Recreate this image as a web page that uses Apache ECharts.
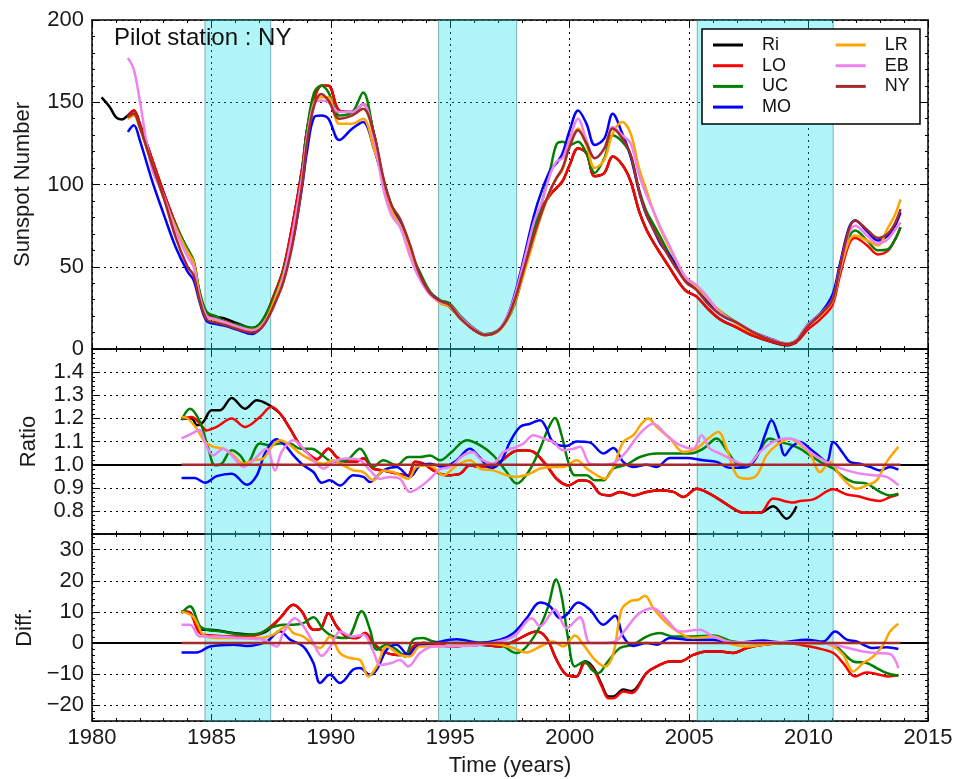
<!DOCTYPE html>
<html>
<head>
<meta charset="utf-8">
<script src="https://cdn.jsdelivr.net/npm/echarts@6/dist/echarts.min.js"></script>
<style>
  html, body { margin: 0; padding: 0; background: #ffffff; }
  #chart { width: 967px; height: 779px; }
</style>
</head>
<body>
<div id="chart"></div>
<script>
// ---------------- data ----------------
const stations = ['Ri', 'LO', 'UC', 'MO', 'LR', 'EB', 'NY'];
const stationColors = ['#000000', '#ff0000', '#008000', '#0000ff', '#ffa500', '#ee82ee', '#a52a2a'];

// shaded intervals (years)
const minimaSpans = [[1984.73, 1987.48], [1994.51, 1997.78], [2005.34, 2011.03]];

// smoothed sunspot numbers, sampled at these epochs
const years = [
  1980.4, 1980.75, 1981.0, 1981.25, 1981.5, 1981.75, 1982.0, 1982.5, 1983.0, 1983.5,
  1984.0, 1984.25, 1984.5, 1984.8, 1985.2, 1985.6, 1986.1, 1986.7, 1987.0, 1987.3,
  1987.6, 1988.0, 1988.4, 1988.8, 1989.0, 1989.3, 1989.6, 1989.9, 1990.35, 1990.9,
  1991.35, 1991.8, 1992.2, 1992.55, 1992.9, 1993.3, 1993.7, 1994.15, 1994.6, 1994.95,
  1995.4, 1995.95, 1996.45, 1996.95, 1997.35, 1997.7, 1998.05, 1998.5, 1998.85, 1999.2,
  1999.45, 1999.7, 2000.0, 2000.35, 2000.7, 2001.05, 2001.45, 2001.8, 2002.2, 2002.55,
  2002.9, 2003.2, 2003.5, 2003.8, 2004.2, 2004.6, 2004.9, 2005.3, 2005.75, 2006.3,
  2007.0, 2007.7, 2008.5, 2009.1, 2009.5, 2009.95, 2010.5, 2011.0, 2011.3, 2011.7,
  2011.95, 2012.45, 2012.9, 2013.3, 2013.6, 2013.85
];

const riSSN = [
  153, 147, 141, 139.5, 142, 145, 137, 116, 95, 76,
  60, 53, 34.5, 22, 19.7, 18.3, 15.5, 12.8, 14.8, 21.5,
  32, 48, 76, 110, 133, 152, 160, 160, 145, 144,
  149, 131, 101, 84, 75, 61, 46, 34, 28, 26,
  19, 12, 8.5, 10.6, 17.9, 31.7, 49.8, 72.5, 86, 94,
  98, 102, 112, 122, 119, 105, 107, 117, 112, 102,
  84, 73, 65, 58, 49, 40, 35, 32, 25, 18,
  13, 8, 4.1, 2.3, 4.1, null, null, null, null, null,
  null, null, null, null, null, null
];
const loSSN = [
  null, null, null, null, 141, 145, 137, 116, 95, 76,
  60, 53, 33.5, 20.5, 18.3, 16.7, 14, 12.2, 13.8, 21,
  32, 48, 76, 110, 133, 152, 160, 160, 145, 144,
  149, 131, 101, 84, 75, 61, 46, 34, 28, 26,
  19, 12, 8.5, 10.6, 17.9, 31.7, 49.8, 72.5, 86, 94,
  98, 102, 112, 122, 119, 105, 107, 117, 112, 102,
  84, 73, 65, 58, 49, 40, 35, 32, 25, 18,
  13, 8, 4.3, 2.5, 4.2, 11.5, 18.2, 26.8, 44, 64,
  67.5, 63, 57.5, 59.5, 66, 74
];
const ucSSN = [
  null, null, null, null, 140, 143, 135, 113, 92, 75,
  61, 54, 35.5, 22.5, 19.8, 16.2, 14.8, 12.7, 14.7, 21.5,
  30.5, 46, 70, 106, 133, 156, 160, 156, 142, 144,
  156, 130, 103, 85, 76, 60, 47.5, 35, 29.5, 28,
  20.5, 13, 8.9, 10.9, 17, 27.5, 45.5, 72, 90, 110,
  124.5, 126, 124, 126, 119, 107, 116, 130, 126, 118,
  97, 84, 76, 68, 57, 48, 42, 38, 30, 23,
  16, 10.2, 5.5, 3.3, 5.4, 14.1, 21.3, 29.5, 47, 68,
  72, 66, 60, 60.5, 66, 74
];
const moSSN = [
  null, null, null, null, 132, 136, 127, 103, 82, 62,
  47, 42, 29, 17, 15.2, 13.9, 11.6, 9.1, 11.6, 17.5,
  28.5, 44, 65, 99, 120, 141, 142, 140, 127, 134,
  138, 122, 102, 87, 78, 60, 45, 34, 28.7, 27,
  19.5, 12.8, 8.6, 10.5, 18.5, 33.3, 53.5, 81, 97, 109,
  113, 119, 133, 145, 137, 124, 128, 143, 131, 117,
  96, 82, 73, 64, 56.5, 47.5, 41, 36.7, 28.6, 21.2,
  15.8, 10.1, 5.8, 3.2, 5.5, 14.6, 21.7, 33, 51, 74,
  78.3, 71.5, 66, 68.7, 74.5, 83
];
const lrSSN = [
  null, null, null, null, 140, 142, 134, 113, 92, 74,
  59, 53, 33, 20, 17.6, 16, 13.5, 11.6, 13.1, 18.5,
  28.5, 44.5, 67, 102, 127, 150, 153, 153, 137, 137,
  140, 122, 103, 84, 75, 60, 45, 34, 27.6, 26,
  19, 12.2, 8.3, 10.2, 16.8, 28.5, 44.3, 66.5, 83, 96.5,
  104, 109, 124, 134, 124, 110, 115, 131, 138, 131,
  110, 97, 84, 73, 61, 49.5, 42.5, 38, 31, 23,
  15, 9.6, 5.3, 3.3, 5.5, 14.2, 20.5, 29, 47, 66,
  69, 66, 63, 73, 81, 91
];
const ebSSN = [
  null, null, null, null, 177, 170, 151, 110, 93, 72,
  56, 50, 32, 20, 18, 16, 13.5, 11.2, 12.6, 18,
  25, 43, 71, 105, 128, 149, 151, 150, 144, 144,
  149, 128, 97, 81, 74, 57, 43, 33, 28.5, 27,
  19.8, 12.7, 8.7, 10.6, 18.6, 32.2, 51.3, 77, 90, 107,
  114, 116, 128, 140, 127, 116, 122, 135, 130, 125,
  106, 94, 84, 74, 62, 50, 43, 39, 32, 22,
  16.2, 10.3, 5.5, 3.3, 5.5, 14.3, 21.3, 30, 48, 71,
  75, 69, 64, 66.5, 72, 77
];
const nySSN = [
  null, null, null, null, 141, 143, 135, 113, 92, 68,
  50, 45, 30, 18, 16, 14.5, 12, 10, 11.5, 17,
  26, 40, 64, 100, 125, 148, 155, 151, 140, 142,
  146, 131, 104, 87, 79, 64, 46, 34, 29, 27,
  19, 12, 8.5, 10.5, 17.5, 30, 47, 69, 84, 97,
  104, 110, 123, 133, 125, 116, 122, 134, 128, 118,
  96, 82, 73, 65, 55, 46, 40, 36, 28, 21,
  16, 10, 5, 3, 5, 13.5, 21, 30, 49, 73,
  78, 72.5, 67.5, 70, 76, 85
];

// ratio to the pilot station, [year, ratio]
const riRatio = [[1983.75,1.199],[1984.17,1.2],[1984.4,1.17],[1984.66,1.185],[1985.01,1.235],[1985.36,1.235],[1985.85,1.288],[1986.41,1.242],[1986.9,1.278],[1987.31,1.264],[1987.52,1.25],[1987.87,1.221],[1988.29,1.156],[1988.71,1.084],[1989.13,1.04],[1989.41,1.023],[1989.9,1.069],[1990.24,1.033],[1990.66,1.012],[1991.08,1.014],[1991.36,1.026],[1991.78,0.983],[1992.2,0.975],[1992.75,0.961],[1993.24,0.954],[1993.52,1.012],[1993.87,1.004],[1994.29,0.975],[1994.85,0.954],[1995.4,0.96],[1995.82,0.997],[1996.24,0.99],[1996.9,1.0],[1997.64,1.055],[1998.06,1.062],[1998.48,1.055],[1999.03,0.997],[1999.45,0.939],[1999.94,0.91],[2000.43,0.932],[2000.85,0.925],[2001.27,0.874],[2001.69,0.867],[2002.1,0.882],[2002.66,0.867],[2003.22,0.882],[2003.78,0.889],[2004.34,0.882],[2004.76,0.86],[2005.31,0.896],[2005.87,0.874],[2006.43,0.838],[2006.85,0.81],[2007.27,0.792],[2007.97,0.792],[2008.52,0.82],[2009.08,0.766],[2009.5,0.82]];
const loRatio = [[1983.75,1.199],[1984.17,1.206],[1984.52,1.177],[1984.8,1.148],[1985.22,1.163],[1985.85,1.199],[1986.41,1.163],[1987.03,1.206],[1987.52,1.25],[1987.87,1.221],[1988.29,1.156],[1988.71,1.084],[1989.13,1.04],[1989.41,1.023],[1989.9,1.069],[1990.24,1.033],[1990.66,1.012],[1991.08,1.014],[1991.36,1.026],[1991.78,0.983],[1992.2,0.975],[1992.75,0.961],[1993.24,0.954],[1993.52,1.012],[1993.87,1.004],[1994.29,0.975],[1994.85,0.954],[1995.4,0.96],[1995.82,0.997],[1996.24,0.99],[1996.9,1.0],[1997.64,1.055],[1998.06,1.062],[1998.48,1.055],[1999.03,0.997],[1999.45,0.939],[1999.94,0.91],[2000.43,0.932],[2000.85,0.925],[2001.27,0.874],[2001.69,0.867],[2002.1,0.882],[2002.66,0.867],[2003.22,0.882],[2003.78,0.889],[2004.34,0.882],[2004.76,0.86],[2005.31,0.896],[2005.87,0.874],[2006.43,0.838],[2006.85,0.81],[2007.27,0.792],[2007.97,0.792],[2008.52,0.853],[2009.36,0.836],[2009.64,0.843],[2010.2,0.85],[2011.04,0.893],[2011.6,0.871],[2012.01,0.864],[2012.99,0.843],[2013.41,0.86],[2013.76,0.871]];
const ucRatio = [[1983.75,1.192],[1984.1,1.242],[1984.52,1.185],[1984.87,1.069],[1985.15,0.997],[1985.43,1.004],[1985.85,1.062],[1986.2,1.04],[1986.48,1.004],[1987.03,1.091],[1987.45,1.084],[1987.87,1.091],[1988.29,1.091],[1988.71,1.069],[1989.2,1.069],[1989.55,1.048],[1990.1,1.012],[1990.66,1.019],[1991.22,1.069],[1991.78,0.99],[1992.2,1.019],[1992.75,0.997],[1993.24,1.033],[1993.73,1.033],[1994.15,1.04],[1994.57,1.019],[1994.99,1.048],[1995.69,1.105],[1996.24,1.084],[1996.8,1.04],[1997.36,0.968],[1997.78,0.918],[1998.27,0.968],[1998.76,1.069],[1999.1,1.156],[1999.38,1.202],[1999.66,1.127],[1999.94,1.012],[2000.22,0.954],[2000.71,0.954],[2001.06,0.932],[2001.41,0.932],[2001.83,0.983],[2002.38,1.0],[2002.94,1.033],[2003.64,1.048],[2004.34,1.048],[2005.03,1.048],[2005.59,1.069],[2006.15,1.113],[2006.57,1.062],[2006.99,1.004],[2007.41,0.99],[2007.83,1.04],[2008.38,1.113],[2008.8,1.098],[2009.22,1.087],[2009.64,1.069],[2010.06,1.04],[2010.62,1.004],[2011.04,0.983],[2011.45,0.947],[2011.87,0.925],[2012.43,0.918],[2012.99,0.882],[2013.41,0.867],[2013.76,0.874]];
const moRatio = [[1983.75,0.942],[1984.3,0.942],[1984.73,0.922],[1985.22,0.95],[1985.85,0.961],[1986.48,0.913],[1986.9,0.954],[1987.24,1.048],[1987.73,1.11],[1988.08,1.084],[1988.43,1.04],[1988.85,0.997],[1989.27,0.968],[1989.62,0.922],[1989.96,0.932],[1990.38,0.91],[1990.94,0.954],[1991.36,0.947],[1991.64,0.925],[1992.2,0.975],[1992.75,0.99],[1993.31,0.947],[1993.73,0.997],[1994.15,1.004],[1994.71,0.99],[1995.27,1.019],[1995.82,1.069],[1996.24,1.03],[1996.7,0.985],[1997.1,1.01],[1997.5,1.098],[1997.92,1.163],[1998.34,1.177],[1998.76,1.192],[1999.03,1.156],[1999.24,1.105],[1999.52,1.084],[1999.87,1.081],[2000.29,1.1],[2000.85,1.095],[2001.41,1.048],[2001.83,1.072],[2002.24,1.012],[2002.66,0.99],[2003.22,1.0],[2003.64,0.99],[2004.2,1.029],[2004.9,1.029],[2005.59,1.019],[2006.15,1.012],[2006.71,0.986],[2007.41,0.99],[2007.83,1.033],[2008.17,1.127],[2008.45,1.192],[2008.73,1.127],[2009.01,1.04],[2009.29,1.077],[2009.64,1.098],[2010.06,1.069],[2010.48,1.033],[2010.76,1.012],[2011.04,1.098],[2011.45,1.048],[2011.73,1.012],[2012.15,1.004],[2012.57,0.99],[2012.99,0.975],[2013.41,0.99],[2013.76,0.978]];
const lrRatio = [[1983.75,1.206],[1984.0,1.2],[1984.38,1.156],[1984.73,1.098],[1985.08,1.077],[1985.5,1.069],[1985.92,1.04],[1986.34,1.004],[1986.76,1.019],[1987.17,1.026],[1987.52,1.077],[1987.87,1.105],[1988.29,1.084],[1988.71,1.048],[1989.2,1.019],[1989.69,1.004],[1990.1,1.019],[1990.52,0.997],[1990.94,0.975],[1991.36,0.968],[1991.78,0.932],[1992.2,0.975],[1992.62,0.968],[1993.24,0.939],[1993.59,0.99],[1994.15,0.997],[1994.71,0.954],[1995.27,0.997],[1995.82,1.019],[1996.24,0.983],[1996.8,0.975],[1997.36,0.954],[1997.78,0.947],[1998.34,0.961],[1998.76,0.983],[1999.31,0.99],[1999.73,0.99],[2000.29,1.019],[2000.71,0.983],[2001.13,0.954],[2001.48,0.939],[2001.83,0.99],[2002.24,1.098],[2002.66,1.127],[2003.01,1.177],[2003.29,1.199],[2003.64,1.163],[2004.2,1.113],[2004.76,1.055],[2005.31,1.069],[2005.8,1.113],[2006.22,1.141],[2006.57,1.069],[2006.99,0.954],[2007.41,0.939],[2007.83,0.954],[2008.24,1.04],[2008.66,1.084],[2009.22,1.113],[2009.64,1.087],[2010.06,1.048],[2010.48,0.968],[2010.9,1.012],[2011.31,0.954],[2011.73,0.91],[2012.01,0.896],[2012.43,0.91],[2012.85,0.932],[2013.27,1.012],[2013.76,1.077]];
const ebRatio = [[1983.75,1.113],[1984.17,1.134],[1984.5,1.15],[1984.75,1.09],[1985.08,1.04],[1985.5,1.069],[1985.92,1.033],[1986.34,0.99],[1986.76,1.019],[1987.31,1.069],[1987.66,0.975],[1987.94,1.055],[1988.43,1.105],[1988.85,1.069],[1989.27,1.019],[1989.69,0.983],[1990.1,1.012],[1990.66,1.026],[1991.22,1.019],[1991.64,0.975],[1992.06,0.939],[1992.48,0.947],[1992.89,0.939],[1993.31,0.882],[1993.73,0.903],[1994.15,0.939],[1994.57,0.98],[1994.99,0.99],[1995.55,1.04],[1995.96,1.055],[1996.24,1.026],[1996.8,1.005],[1997.22,1.055],[1997.64,1.072],[1998.06,1.091],[1998.48,1.127],[1998.9,1.113],[1999.31,1.098],[1999.73,1.062],[2000.15,1.069],[2000.43,1.077],[2000.85,1.004],[2001.4,1.0],[2001.9,1.01],[2002.4,1.06],[2002.9,1.13],[2003.5,1.177],[2004.06,1.127],[2004.62,1.084],[2005.17,1.069],[2005.52,1.127],[2005.87,1.069],[2006.29,1.048],[2006.85,1.019],[2007.41,0.997],[2007.97,1.055],[2008.52,1.098],[2009.08,1.113],[2009.5,1.105],[2010.06,1.055],[2010.62,1.019],[2011.04,0.997],[2011.6,0.975],[2012.15,0.961],[2012.71,0.954],[2013.27,0.947],[2013.76,0.91]];
const nyRatio = [[1983.75,1.0],[2013.85,1.0]];

// difference to the pilot station, [year, difference]
const riDiff = [[1983.75,10.1],[1984.1,9.8],[1984.52,4.3],[1984.94,4.3],[1985.92,3.2],[1986.76,2.7],[1987.31,3.8],[1987.87,8],[1988.43,12.3],[1988.78,10.2],[1989.27,4.3],[1989.55,4.5],[1989.9,9.6],[1990.24,5.4],[1990.66,2.1],[1991.08,1.6],[1991.43,3.2],[1991.78,0],[1992.2,-2.7],[1992.75,-3.8],[1993.24,-3.2],[1993.45,-1.1],[1993.87,0],[1994.5,-0.5],[1994.99,-1.1],[1995.6,-0.8],[1996.24,-0.5],[1997.08,-1.1],[1997.64,0.5],[1998.34,3.2],[1998.62,3.7],[1999.03,1.6],[1999.45,-5.4],[1999.87,-10.2],[2000.29,-10.7],[2000.64,-5.8],[2000.99,-7.9],[2001.34,-13.3],[2001.62,-17.1],[2001.83,-17.1],[2002.24,-14.9],[2002.59,-15.4],[2003.22,-9.6],[2003.64,-7.5],[2004.2,-5.9],[2004.62,-5.9],[2005.17,-3.8],[2005.73,-2.7],[2006.29,-2.7],[2006.85,-3.2],[2007.41,-1.6],[2008.1,-0.5],[2009.0,0],[2009.5,-0.3]];
const loDiff = [[1983.75,10.1],[1984.1,9.6],[1984.52,3.2],[1985.08,2.4],[1985.92,2.1],[1986.76,2.3],[1987.31,4.3],[1987.87,8],[1988.43,12.3],[1988.78,10.2],[1989.27,4.3],[1989.55,4.5],[1989.9,9.6],[1990.24,5.4],[1990.66,2.1],[1991.08,1.6],[1991.43,3.2],[1991.78,0],[1992.2,-2.7],[1992.75,-3.8],[1993.24,-3.2],[1993.45,-1.1],[1993.87,0],[1994.5,-0.5],[1994.99,-1.1],[1995.6,-0.8],[1996.24,-0.5],[1997.08,-1.1],[1997.64,0.5],[1998.34,3.2],[1998.62,3.7],[1999.03,1.6],[1999.45,-5.4],[1999.87,-10.2],[2000.29,-10.7],[2000.64,-6.4],[2000.99,-8.5],[2001.34,-13.9],[2001.62,-17.7],[2001.83,-17.7],[2002.24,-15.5],[2002.59,-16],[2003.22,-9.6],[2003.64,-7.5],[2004.2,-5.9],[2004.62,-5.9],[2005.17,-3.8],[2005.73,-2.7],[2006.29,-2.7],[2006.85,-3.2],[2007.41,-1.6],[2008.1,-0.5],[2009.0,0],[2010.06,-1.1],[2010.62,-2.1],[2011.04,-3.2],[2011.45,-6.4],[2011.94,-10.7],[2012.43,-9.4],[2012.99,-10.2],[2013.34,-10.7],[2013.76,-10.2]];
const ucDiff = [[1983.75,9.6],[1984.1,11.8],[1984.52,5.4],[1984.8,4.3],[1985.36,3.8],[1986.34,2.7],[1987.03,3.2],[1987.45,4.8],[1988.0,5.9],[1988.43,5.9],[1988.85,6.4],[1989.27,8.3],[1989.69,4.3],[1990.1,2.1],[1990.66,1.6],[1991.29,10.2],[1991.64,4.3],[1991.92,-2.1],[1992.34,-0.5],[1992.75,-2.1],[1993.1,-4.3],[1993.45,1.1],[1993.87,1.6],[1994.29,0.5],[1995.0,0],[1996.24,0],[1997.08,-0.5],[1997.78,-3.2],[1998.2,-1.1],[1998.76,5.4],[1999.1,11.8],[1999.43,20.4],[1999.66,15],[1999.94,1.1],[2000.22,-7.5],[2000.64,-5.9],[2000.92,-8.5],[2001.2,-9.6],[2001.55,-6.4],[2002.1,-1.6],[2002.66,-0.5],[2003.22,2.1],[2003.78,3.2],[2004.34,2.1],[2005.17,2.1],[2006.01,2.4],[2006.85,0.5],[2008.0,0],[2010.0,0],[2011.04,-0.5],[2011.45,-3.2],[2011.87,-5.9],[2012.43,-6.4],[2012.85,-8],[2013.27,-9.6],[2013.76,-10.5]];
const moDiff = [[1983.75,-3],[1984.38,-3],[1984.94,-1.1],[1985.92,-0.5],[1986.48,-0.9],[1987.31,0.5],[1987.87,3.8],[1988.29,1.1],[1988.85,-1.1],[1989.27,-6.4],[1989.55,-12.8],[1989.96,-10.2],[1990.38,-12.8],[1990.94,-8.5],[1991.22,-8],[1991.64,-10.2],[1991.92,-8.5],[1992.34,-2.1],[1992.75,-0.5],[1993.24,-3.8],[1993.59,-1.1],[1994.29,0],[1995.27,1.2],[1996.24,0.2],[1997.08,1.1],[1997.64,3.2],[1998.2,8],[1998.76,13],[1999.17,11.8],[1999.59,8],[1999.87,9.1],[2000.36,13],[2000.85,10.7],[2001.41,5.9],[2001.9,8.8],[2002.24,2.1],[2002.66,-0.9],[2003.22,0],[2003.64,-0.5],[2004.2,1.6],[2004.9,1.1],[2006.0,1.1],[2006.85,0],[2008.1,0.8],[2008.8,0.3],[2009.92,1.1],[2010.62,0.5],[2011.11,3.7],[2011.6,1.1],[2012.01,0.5],[2012.71,-1.6],[2013.27,-1.3],[2013.76,-1.9]];
const lrDiff = [[1983.75,10.1],[1984.24,8.4],[1984.66,2.7],[1985.22,1.6],[1986.2,1.6],[1987.03,1.6],[1987.59,2.7],[1988.15,5.4],[1988.43,3.2],[1988.85,2.1],[1989.55,-1.6],[1989.96,2.1],[1990.38,-3.2],[1990.8,-4.8],[1991.22,-5.4],[1991.57,-10.7],[1991.92,-7.5],[1992.34,-1.1],[1992.89,-3.8],[1993.31,-4.3],[1993.73,-1.1],[1995.0,-1],[1996.24,0],[1997.08,-0.5],[1997.64,-1.6],[1998.2,-3],[1998.76,-1.1],[1999.31,0.5],[1999.73,-1.1],[2000.22,2.4],[2000.57,-0.5],[2001.06,-5.4],[2001.48,-7.5],[2001.83,-3.2],[2002.17,10.7],[2002.52,13.4],[2002.87,13.9],[2003.15,15.2],[2003.5,11.2],[2004.06,6.4],[2004.62,3.2],[2005.17,1.6],[2006.0,2.1],[2006.85,-0.5],[2007.41,-1.1],[2008.1,-0.5],[2009.0,0],[2010.5,0],[2011.04,-1.1],[2011.45,-3.8],[2011.87,-9.1],[2012.29,-6.4],[2012.71,-4.3],[2013.13,-0.5],[2013.41,3.7],[2013.76,6.2]];
const ebDiff = [[1983.75,5.9],[1984.1,5.9],[1984.52,2.1],[1985.22,2.1],[1986.2,1.6],[1987.17,1.1],[1987.73,-1.1],[1988.0,3.2],[1988.5,8],[1988.85,5.4],[1989.27,0],[1989.62,-4.1],[1990.03,-0.5],[1990.38,3.7],[1990.94,2.1],[1991.36,2.7],[1991.78,-2.7],[1992.06,-7],[1992.55,-6.4],[1992.89,-5.4],[1993.24,-7.5],[1993.73,-3.2],[1994.29,-1.1],[1995.0,-1],[1996.24,-0.5],[1997.64,2.1],[1998.41,8],[1998.76,5.4],[1999.38,10.7],[1999.87,4.8],[2000.43,8.3],[2000.85,0],[2001.3,0],[2001.9,0.5],[2002.3,4],[2002.9,9.5],[2003.5,11.2],[2004.06,7.5],[2004.62,3.7],[2005.45,4.3],[2006.0,2.1],[2006.85,0.3],[2008.0,0.3],[2010.0,0.3],[2011.04,-0.5],[2011.6,-1.5],[2012.29,-2.7],[2012.85,-3.2],[2013.41,-3.5],[2013.76,-8]];
const nyDiff = [[1983.75,0],[2013.85,0]];

// ---------------- layout / styling ----------------
const FONT = "'Liberation Sans', Arial, Helvetica, sans-serif";
const panels = [
  { top: 20,  height: 329, yName: 'Sunspot Number', nameGap: 58 },
  { top: 349, height: 185, yName: 'Ratio', nameGap: 52 },
  { top: 534, height: 187, yName: 'Diff.', nameGap: 56 }
];

const ssnSets = [riSSN, loSSN, ucSSN, moSSN, lrSSN, ebSSN, nySSN];
const ratioSets = [riRatio, loRatio, ucRatio, moRatio, lrRatio, ebRatio, nyRatio];
const diffSets = [riDiff, loDiff, ucDiff, moDiff, lrDiff, ebDiff, nyDiff];

function withYears(values) {
  const out = [];
  values.forEach((v, i) => { if (v !== null) out.push([years[i], v]); });
  return out;
}

const frameLine = { show: true, onZero: false, lineStyle: { color: '#000', width: 1.5 } };
const majorTick = { show: true, inside: true, length: 6, lineStyle: { color: '#000', width: 1 } };
const minorTick = { show: true, splitNumber: 5, length: 3, lineStyle: { color: '#000', width: 1 } };
const gridDots = { show: true, lineStyle: { color: '#000', width: 1, type: [2, 4] } };

const grid = panels.map(p => ({ left: 92, right: 39, top: p.top, height: p.height }));

const xAxis = [];
panels.forEach((p, i) => {
  const last = i === panels.length - 1;
  xAxis.push({
    type: 'value', gridIndex: i, position: 'bottom', min: 1980, max: 2015, interval: 5,
    axisLine: frameLine, axisTick: majorTick, minorTick: minorTick, splitLine: gridDots,
    axisLabel: { show: last, formatter: v => String(v), fontSize: 22, fontFamily: FONT, color: '#1a1a1a', margin: 6 },
    name: last ? 'Time (years)' : '', nameLocation: 'middle', nameGap: 34,
    nameTextStyle: { fontSize: 22, fontFamily: FONT, color: '#1a1a1a' }
  });
  xAxis.push({
    type: 'value', gridIndex: i, position: 'top', min: 1980, max: 2015, interval: 5,
    axisLine: frameLine, axisTick: majorTick, minorTick: minorTick,
    splitLine: { show: false }, axisLabel: { show: false }
  });
});

const yRanges = [
  { min: 0, max: 200, interval: 50, fmt: v => String(v) },
  { min: 0.7, max: 1.5, interval: 0.1, fmt: v => (v < 0.75 || v > 1.45) ? '' : v.toFixed(1) },
  { min: -25, max: 35, splitNumber: 6,
    fmt: v => (v <= -25 || v >= 35) ? '' : (v < 0 ? '\u2212' + Math.abs(v) : String(v)) }
];

const yAxis = [];
panels.forEach((p, i) => {
  const r = yRanges[i];
  const base = { type: 'value', gridIndex: i, min: r.min, max: r.max };
  if (r.interval !== undefined) base.interval = r.interval;
  if (r.splitNumber !== undefined) base.splitNumber = r.splitNumber;
  yAxis.push(Object.assign({}, base, {
    position: 'left',
    axisLine: frameLine, axisTick: majorTick, minorTick: minorTick, splitLine: gridDots,
    axisLabel: { show: true, formatter: r.fmt, fontSize: 22, fontFamily: FONT, color: '#1a1a1a', margin: 8 },
    name: p.yName, nameLocation: 'middle', nameGap: p.nameGap,
    nameTextStyle: { fontSize: 22, fontFamily: FONT, color: '#1a1a1a' }
  }));
  yAxis.push(Object.assign({}, base, {
    position: 'right',
    axisLine: frameLine, axisTick: majorTick, minorTick: minorTick,
    splitLine: { show: false }, axisLabel: { show: false }
  }));
});

const series = [];
const panelData = [ssnSets.map(withYears), ratioSets, diffSets];
const refLevels = [null, 1, 0];

panels.forEach((p, i) => {
  // shaded spans and the unity/zero reference line
  const holder = {
    name: 'minima', type: 'line', xAxisIndex: 2 * i, yAxisIndex: 2 * i,
    data: panelData[i][6], showSymbol: false, silent: true, z: 1,
    lineStyle: { opacity: 0 },
    markArea: {
      silent: true,
      itemStyle: { color: 'rgba(0,222,232,0.31)', borderColor: 'rgba(40,120,130,0.55)', borderWidth: 1 },
      data: minimaSpans.map(s => [{ xAxis: s[0] }, { xAxis: s[1] }])
    }
  };
  if (refLevels[i] !== null) {
    holder.markLine = {
      silent: true, symbol: ['none', 'none'], label: { show: false },
      lineStyle: { color: '#000', width: 2, type: 'solid' },
      data: [{ yAxis: refLevels[i] }]
    };
  }
  series.push(holder);

  stations.forEach((s, k) => {
    series.push({
      name: s, type: 'line', xAxisIndex: 2 * i, yAxisIndex: 2 * i,
      data: panelData[i][k], showSymbol: false, smooth: 0.35,
      color: stationColors[k],
      lineStyle: { color: stationColors[k], width: 2.5 },
      z: (s === 'NY' && i > 0) ? 10 : 3,
      silent: true
    });
  });
});

// legend: two columns inside one framed box
const legendText = { fontSize: 18, fontFamily: FONT, color: '#111', padding: [0, 0, 0, 14] };
const legendCommon = {
  orient: 'vertical', top: 29, itemGap: 2.7, itemWidth: 30, itemHeight: 3, icon: 'rect',
  selectedMode: false, textStyle: legendText
};

const option = {
  animation: false,
  backgroundColor: '#ffffff',
  title: {
    text: 'Pilot station : NY', left: 114, top: 26, padding: 0,
    textStyle: { fontSize: 24, fontWeight: 'normal', fontFamily: FONT, color: '#111' }
  },
  legend: [
    Object.assign({}, legendCommon, {
      data: stations.slice(0, 4), left: 702, padding: [7, 129, 8, 11],
      backgroundColor: '#ffffff', borderColor: '#000', borderWidth: 1.5, z: 20
    }),
    Object.assign({}, legendCommon, {
      data: stations.slice(4), left: 835.7, padding: [7, 0, 0, 0], z: 21
    })
  ],
  grid: grid,
  xAxis: xAxis,
  yAxis: yAxis,
  series: series
};

const chart = echarts.init(document.getElementById('chart'), null, { renderer: 'canvas' });
chart.setOption(option);
</script>
</body>
</html>
